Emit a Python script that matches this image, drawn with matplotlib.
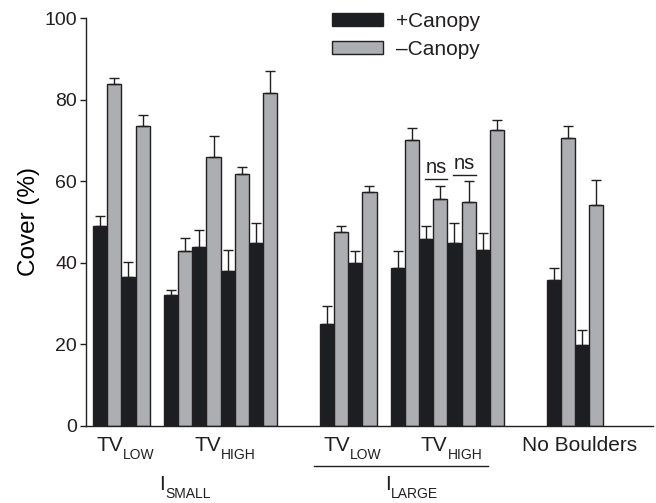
import matplotlib
matplotlib.use('Agg')
import matplotlib.pyplot as plt
from matplotlib.patches import Patch
from matplotlib.transforms import offset_copy

# treatments in plot order: each one has a +Canopy (black) and -Canopy (grey) bar
plus_mean = [49.1, 36.4, 32.0, 43.9, 38.0, 44.9, 25.0, 40.0, 38.6, 45.9, 44.9, 43.2, 35.8, 19.7]
plus_err = [2.3, 3.7, 1.2, 4.1, 5.1, 4.7, 4.4, 2.9, 4.2, 3.1, 4.8, 4.1, 2.8, 3.7]
minus_mean = [83.9, 73.4, 42.8, 65.8, 61.8, 81.7, 47.4, 57.4, 70.0, 55.6, 54.9, 72.5, 70.5, 54.2]
minus_err = [1.4, 2.9, 3.2, 5.3, 1.7, 5.2, 1.5, 1.4, 2.9, 3.1, 5.1, 2.5, 3.0, 6.1]

pairs_per_group = [2, 4, 2, 4, 2]
gaps = [1, 3, 1, 3]
group_labels = [('TV', 'LOW'), ('TV', 'HIGH'), ('TV', 'LOW'), ('TV', 'HIGH'), ('No Boulders', '')]
super_labels = [('I', 'SMALL'), ('I', 'LARGE')]
super_groups = [(0, 1), (2, 3)]
ns_treatments = [9, 10]
ns_heights = [60.6, 61.4]

ink = '#231f20'
black = '#1d1e22'
grey = '#adaeb2'

plt.rcParams['font.family'] = ['Liberation Sans', 'DejaVu Sans']
plt.rcParams['text.color'] = ink

# bar positions
x_plus, x_minus, group_span = [], [], []
pos = 0
for g, n in enumerate(pairs_per_group):
    start = pos
    for k in range(n):
        x_plus.append(pos)
        x_minus.append(pos + 1)
        pos += 2
    group_span.append((start, pos - 1))
    if g < len(gaps):
        pos += gaps[g]

fig = plt.figure(figsize=(6.56, 5.03), dpi=100)
ax = fig.add_axes([0.131, 0.1537, 0.8643, 0.8105])

ax.bar(x_plus, plus_mean, width=1.0, color=black, edgecolor=ink, linewidth=1.0, zorder=2)
ax.bar(x_minus, minus_mean, width=1.0, color=grey, edgecolor=ink, linewidth=1.0, zorder=2)
for xs, m, e in [(x_plus, plus_mean, plus_err), (x_minus, minus_mean, minus_err)]:
    ax.errorbar(xs, m, yerr=[[0] * len(e), e], fmt='none', ecolor=ink,
                elinewidth=1.0, capsize=3.6, capthick=1.0, zorder=3)

# ns marks
for t, h in zip(ns_treatments, ns_heights):
    x0 = x_plus[t] - 0.1
    x1 = x_minus[t] + 0.5
    ax.plot([x0, x1], [h, h], color=ink, linewidth=1.0, zorder=3)
    ax.annotate('ns', xy=((x0 + x1) / 2, h), xytext=(0, 1.5), textcoords='offset points',
                ha='center', va='bottom', fontsize=14.5)

ax.set_ylim(0, 100)
ax.set_xlim(-1.0, pos + 4 - 1)
ax.set_yticks(range(0, 101, 20))
ax.set_xticks([])
ax.tick_params(axis='y', direction='out', length=4.3, width=1.0, color=ink,
               labelsize=14, labelcolor=ink, pad=2)
for s in ['top', 'right']:
    ax.spines[s].set_visible(False)
for s in ['left', 'bottom']:
    ax.spines[s].set_color(ink)
    ax.spines[s].set_linewidth(1.0)
ax.set_ylabel('Cover (%)', fontsize=17.5, labelpad=3)

# labels with lowered subscripts, centred on x
tr = ax.get_xaxis_transform()
renderer = fig.canvas.get_renderer()


def sub_label(x, y, main, sub, drop=6.0):
    t1 = ax.text(x, y, main, transform=tr, ha='left', va='baseline', fontsize=15)
    t2 = ax.text(x, y, sub, transform=tr, ha='left', va='baseline', fontsize=10)
    w1 = t1.get_window_extent(renderer).width * 72 / fig.dpi
    w2 = t2.get_window_extent(renderer).width * 72 / fig.dpi if sub else 0
    shift = -(w1 + w2) / 2
    t1.set_transform(offset_copy(tr, fig=fig, x=shift, y=0, units='points'))
    t2.set_transform(offset_copy(tr, fig=fig, x=shift + w1, y=-drop, units='points'))


for (a, b), (main, sub) in zip(group_span, group_labels):
    sub_label((a + b) / 2 + 0.3, -0.062, main, sub)
for (g0, g1), (main, sub) in zip(super_groups, super_labels):
    c = (group_span[g0][0] + group_span[g1][1]) / 2
    sub_label(c, -0.158, main, sub, drop=5.5)

# bracket line under I_LARGE groups
g0, g1 = super_groups[1]
ax.plot([group_span[g0][0] - 0.9, group_span[g1][1] - 0.6], [-0.098, -0.098],
        transform=tr, color=ink, linewidth=1.0, clip_on=False)

handles = [Patch(facecolor=black, edgecolor=ink, linewidth=1.0, label='+Canopy'),
           Patch(facecolor=grey, edgecolor=ink, linewidth=1.0, label='\u2013Canopy')]
ax.legend(handles=handles, loc='upper left', bbox_to_anchor=(0.434, 1.015),
          frameon=False, fontsize=15, handlelength=2.45, handleheight=0.6,
          handletextpad=0.6, labelspacing=0.42, borderpad=0, borderaxespad=0)

fig.savefig('out.png', dpi=100)
